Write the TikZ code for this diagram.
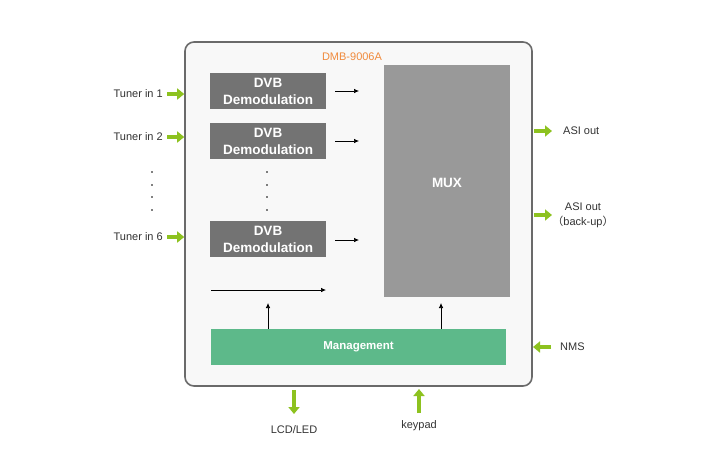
\documentclass[tikz,border=0pt]{standalone}
\usepackage{fontspec}
\setmainfont{Liberation Sans}
\newfontfamily\cjkfont{Noto Sans CJK SC}
\usetikzlibrary{arrows.meta}
\definecolor{boxfill}{HTML}{F8F8F8}
\definecolor{boxline}{HTML}{6A6A6A}
\definecolor{dvbfill}{HTML}{737373}
\definecolor{muxfill}{HTML}{999999}
\definecolor{mgmtfill}{HTML}{5DB98A}
\definecolor{greenarrow}{HTML}{8DC21F}
\definecolor{orangetxt}{HTML}{F08A3C}
\definecolor{labeltxt}{HTML}{333333}
\tikzset{
  block/.style={draw=none, inner sep=0pt, text=white, font=\bfseries\fontsize{13.5}{17}\selectfont, align=center},
  lbl/.style={inner sep=0pt, text=labeltxt, font=\fontsize{11}{15}\selectfont, align=center},
  garrow/.style={draw=greenarrow, line width=4pt, -{Triangle[width=11pt,length=7pt]}},
  barrow/.style={draw=black, line width=0.7pt, -{Latex[length=5pt,width=4.5pt]}},
  dotmark/.style={circle, fill=black, inner sep=0pt, minimum size=1.6pt},
}
\begin{document}
\begin{tikzpicture}[x=1pt,y=-1pt]
\useasboundingbox (0,0) rectangle (710,456);
\fill[white] (0,0) rectangle (710,456);
% outer box
\node[draw=boxline, fill=boxfill, line width=1.6pt, rounded corners=9pt, minimum width=347pt, minimum height=344pt, inner sep=0pt] (outer) at (358.5,214) {};
\node[inner sep=0pt, text=orangetxt, font=\fontsize{11}{13}\selectfont] (title) at (352,57) {DMB-9006A};
% DVB blocks
\node[block, fill=dvbfill, minimum width=116pt, minimum height=36pt] (dvb1) at (268,91) {DVB\\Demodulation};
\node[block, fill=dvbfill, minimum width=116pt, minimum height=36pt] (dvb2) at (268,141) {DVB\\Demodulation};
\node[block, fill=dvbfill, minimum width=116pt, minimum height=36pt] (dvb6) at (268,239) {DVB\\Demodulation};
% MUX
\node[block, fill=muxfill, minimum width=126pt, minimum height=232pt] (mux) at (447,181) {};
\node[block] (muxlbl) at (447,183) {MUX};
% Management
\node[block, fill=mgmtfill, minimum width=295pt, minimum height=36pt, font=\bfseries\fontsize{11.5}{13}\selectfont] (mgmt) at (358.5,347) {Management};
% small arrows from DVB
\coordinate (d1a) at (335,91); \coordinate (d1b) at (359,91);
\coordinate (d2a) at (335,141); \coordinate (d2b) at (359,141);
\coordinate (d6a) at (335,240); \coordinate (d6b) at (359,240);
\draw[barrow] (d1a) -- (d1b);
\draw[barrow] (d2a) -- (d2b);
\draw[barrow] (d6a) -- (d6b);
% long arrow
\coordinate (la) at (211,290); \coordinate (lb) at (326,290);
\draw[barrow] (la) -- (lb);
% up arrows from management
\coordinate (u1) at (268,303); \coordinate (u2) at (441,303);
\draw[barrow] (mgmt.north -| u1) -- (u1);
\draw[barrow] (mgmt.north -| u2) -- (u2);
% dots
\foreach \y [count=\i] in {172,185,197,210} {
  \node[dotmark] (ldot\i) at (152,\y) {};
  \node[dotmark] (mdot\i) at (267,\y) {};
}
% tuner labels
\node[lbl, anchor=east] (t1) at (163,94) {Tuner in 1};
\node[lbl, anchor=east] (t2) at (163,137) {Tuner in 2};
\node[lbl, anchor=east] (t6) at (163,237) {Tuner in 6};
\draw[garrow] ([xshift=4pt]t1.east) -- (t1.east -| outer.west);
\draw[garrow] ([xshift=4pt]t2.east) -- (t2.east -| outer.west);
\draw[garrow] ([xshift=4pt]t6.east) -- (t6.east -| outer.west);
% outputs
\node[lbl, anchor=west] (asi1) at (563,131) {ASI out};
\node[lbl] (asi2) at (583,215) {ASI out\\{\cjkfont （}back-up{\cjkfont ）}};
\coordinate (asi1a) at (534,131); \coordinate (asi1b) at (552,131);
\coordinate (asi2a) at (534,215); \coordinate (asi2b) at (552,215);
\draw[garrow] (asi1a) -- (asi1b);
\draw[garrow] (asi2a) -- (asi2b);
% NMS
\node[lbl, anchor=west] (nms) at (560,347) {NMS};
\coordinate (nmsa) at (551,347); \coordinate (nmsb) at (533,347);
\draw[garrow] (nmsa) -- (nmsb);
% bottom
\node[lbl] (lcd) at (294,430) {LCD/LED};
\node[lbl] (key) at (419,426) {keypad};
\coordinate (lcda) at (294,390); \coordinate (lcdb) at (294,414);
\draw[garrow] (lcda) -- (lcdb);
\coordinate (keya) at (419,413); \coordinate (keyb) at (419,389);
\draw[garrow] (keya) -- (keyb);
\end{tikzpicture}
\end{document}
